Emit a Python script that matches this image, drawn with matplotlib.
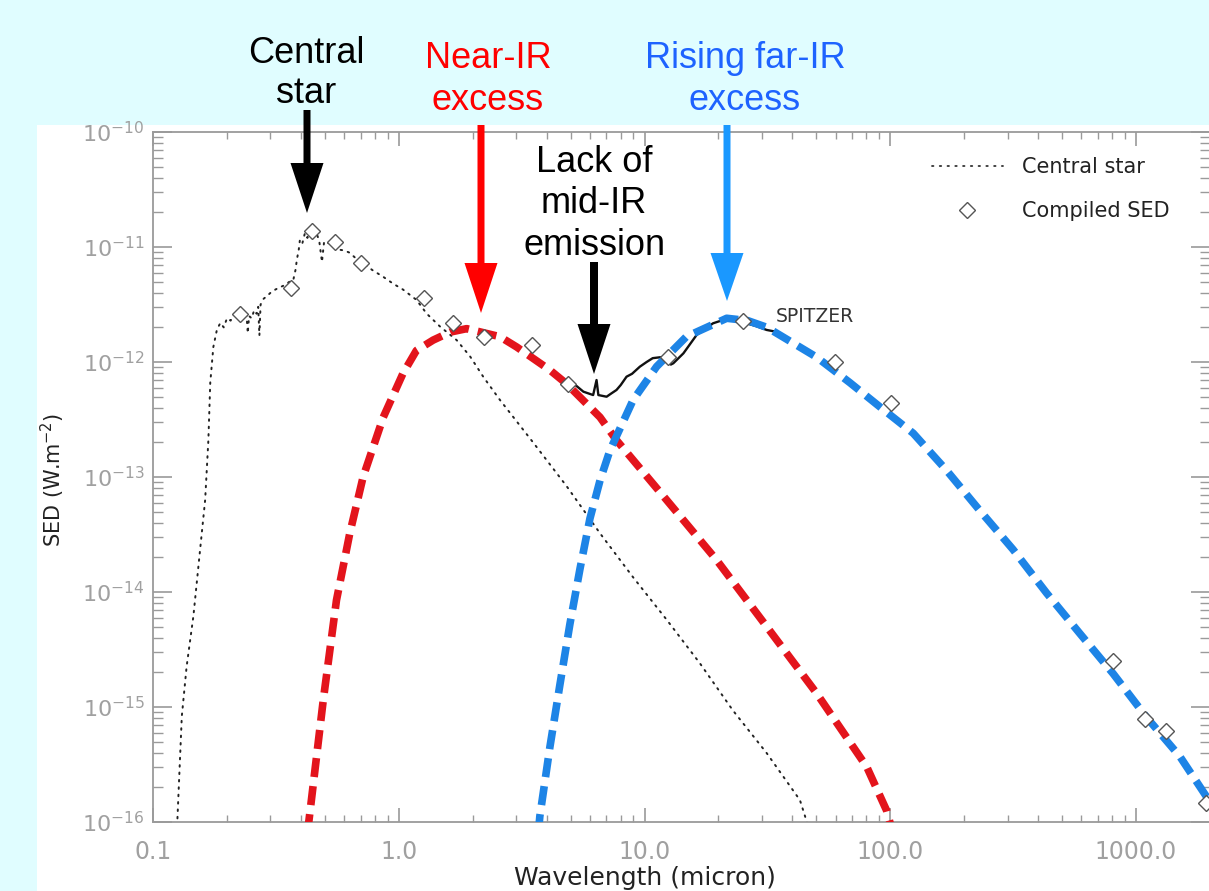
import matplotlib
matplotlib.use("Agg")
import matplotlib.pyplot as plt
import matplotlib.transforms as mtransforms
from matplotlib.lines import Line2D
from matplotlib.patches import Rectangle, FancyArrow
from matplotlib.ticker import FixedLocator, FixedFormatter, LogLocator, NullFormatter

# ---------------- data ----------------
star_wl = [0.125, 0.131, 0.137, 0.146, 0.155, 0.163, 0.168, 0.171, 0.176, 0.182, 0.188,
           0.194, 0.200, 0.207, 0.214, 0.220, 0.226, 0.233, 0.240, 0.243, 0.246, 0.252,
           0.258, 0.264, 0.268, 0.271, 0.274, 0.282, 0.290, 0.300, 0.315, 0.329, 0.345,
           0.360, 0.372, 0.380, 0.385, 0.392, 0.396, 0.405, 0.415, 0.425, 0.436, 0.450,
           0.463, 0.475, 0.487, 0.497, 0.525, 0.56, 0.60, 0.632, 0.67, 0.718, 0.78,
           0.865, 0.95, 1.04, 1.18, 1.30, 1.47, 1.72, 1.95, 2.21, 2.58, 3.52, 4.82,
           6.59, 8.97, 12.3, 16.8, 22.9, 31.4, 42.9, 46.5]
star_sed = [8.0e-17, 8.32e-16, 2.24e-15, 6.17e-15, 2.19e-14, 6.31e-14, 2.09e-13, 6.61e-13,
            1.35e-12, 1.91e-12, 2.19e-12, 2.0e-12, 2.4e-12, 2.29e-12, 2.63e-12, 2.4e-12,
            2.69e-12, 2.51e-12, 2.63e-12, 1.78e-12, 2.51e-12, 2.4e-12, 2.82e-12, 2.63e-12,
            3.02e-12, 1.70e-12, 3.16e-12, 3.55e-12, 3.72e-12, 3.98e-12, 4.27e-12, 4.47e-12,
            4.68e-12, 5.01e-12, 5.13e-12, 6.31e-12, 7.76e-12, 9.55e-12, 1.15e-11, 1.07e-11,
            1.32e-11, 1.20e-11, 1.41e-11, 1.26e-11, 1.32e-11, 1.12e-11, 7.41e-12, 1.12e-11,
            1.07e-11, 9.55e-12, 9.33e-12, 8.91e-12, 7.94e-12, 7.24e-12, 6.31e-12, 5.50e-12,
            4.79e-12, 4.27e-12, 3.47e-12, 2.63e-12, 2.04e-12, 1.55e-12, 1.12e-12, 7.41e-13,
            4.68e-13, 2.0e-13, 8.32e-14, 3.24e-14, 1.35e-14, 5.75e-15, 2.40e-15, 9.33e-16,
            3.98e-16, 1.55e-16, 9.0e-17]

warm_wl = [0.425, 0.436, 0.493, 0.558, 0.632, 0.716, 0.865, 1.04, 1.18, 1.38, 1.62, 1.89,
           2.58, 3.02, 4.12, 4.82, 6.59, 7.69, 12.3, 19.6, 31.4, 50.1, 80.2, 96.6, 101.0]
warm_sed = [8.0e-17, 1.26e-16, 1.15e-15, 8.5e-15, 3.24e-14, 1.0e-13, 3.31e-13, 7.94e-13,
            1.26e-12, 1.55e-12, 1.82e-12, 1.95e-12, 1.66e-12, 1.35e-12, 8.51e-13, 6.46e-13,
            3.31e-13, 2.09e-13, 6.31e-14, 1.91e-14, 5.01e-15, 1.32e-15, 3.02e-16, 1.26e-16,
            9.0e-17]

cold_wl = [3.70, 3.75, 4.12, 4.53, 4.97, 5.46, 6.0, 6.59, 7.23, 8.99, 11.2, 14.8, 21.6,
           26.3, 31.5, 50.2, 68.5, 90.8, 124.0, 169.0, 231.0, 316.0, 433.0, 590.0, 807.0,
           1104.0, 1507.0, 1977.0]
cold_sed = [8.0e-17, 1.12e-16, 4.47e-16, 1.58e-15, 5.25e-15, 1.58e-14, 4.37e-14, 9.33e-14,
            1.70e-13, 4.68e-13, 9.12e-13, 1.66e-12, 2.40e-12, 2.29e-12, 2.0e-12, 1.10e-12,
            6.61e-13, 4.07e-13, 2.40e-13, 1.15e-13, 5.13e-14, 2.34e-14, 9.77e-15, 4.37e-15,
            1.95e-15, 8.13e-16, 3.72e-16, 1.55e-16]

spitzer_wl = [5.13, 5.64, 6.18, 6.38, 6.49, 7.01, 7.3, 7.69, 8.0, 8.45, 8.9, 9.57, 10.2,
              10.8, 11.6, 12.3, 12.8, 13.1, 14.4, 16.3, 19.0, 20.9, 23.0, 26.0, 28.5, 31.4,
              33.5, 35.6]
spitzer_sed = [6.53e-13, 5.52e-13, 5.16e-13, 6.97e-13, 5.16e-13, 4.99e-13, 5.3e-13, 5.71e-13,
               6.3e-13, 7.45e-13, 7.9e-13, 9.10e-13, 1.0e-12, 1.08e-12, 1.1e-12, 1.04e-12,
               9.5e-13, 9.75e-13, 1.19e-12, 1.72e-12, 2.17e-12, 2.32e-12, 2.28e-12, 2.17e-12,
               2.05e-12, 1.90e-12, 1.85e-12, 1.78e-12]

sed_wl = [0.226, 0.366, 0.445, 0.550, 0.700, 1.27, 1.66, 2.23, 3.48, 4.90, 12.5, 25.2,
          59.8, 101.0, 807.0, 1091.0, 1330.0, 1923.0]
sed_val = [2.63e-12, 4.37e-12, 1.38e-11, 1.10e-11, 7.24e-12, 3.63e-12, 2.19e-12, 1.66e-12,
           1.41e-12, 6.46e-13, 1.10e-12, 2.29e-12, 1.0e-12, 4.37e-13, 2.51e-15, 7.94e-16,
           6.17e-16, 1.45e-16]

xtick_vals = [0.1, 1.0, 10.0, 100.0, 1000.0]
xtick_labels = ["0.1", "1.0", "10.0", "100.0", "1000.0"]
ytick_vals = [1e-16, 1e-15, 1e-14, 1e-13, 1e-12, 1e-11, 1e-10]
ytick_labels = [r"$10^{-16}$", r"$10^{-15}$", r"$10^{-14}$", r"$10^{-13}$",
                r"$10^{-12}$", r"$10^{-11}$", r"$10^{-10}$"]

legend_labels = ["Central star", "Compiled SED"]

# ---------------- figure ----------------
W, H = 1209, 891
fig = plt.figure(figsize=(W / 100, H / 100), dpi=100)
fig.patch.set_facecolor('#e0fdff')
# pixel transform (image coordinates, y downward)
px = mtransforms.Affine2D().scale(1.0 / W, -1.0 / H).translate(0, 1) + fig.transFigure

fig.add_artist(Rectangle((37, 125), W, H, transform=px, facecolor='white',
                         edgecolor='none', zorder=-5))

ax = fig.add_axes([153 / W, 1 - 822 / H, (1210 - 153) / W, (822 - 132) / H])
ax.set_facecolor('white')
ax.set_xscale('log')
ax.set_yscale('log')
ax.set_xlim(0.1, 2000)
ax.set_ylim(1e-16, 1e-10)

gray = '#9a9a9a'
for s in ax.spines.values():
    s.set_color(gray)
    s.set_linewidth(1.3)
ax.xaxis.set_major_locator(FixedLocator(xtick_vals))
ax.xaxis.set_major_formatter(FixedFormatter(xtick_labels))
ax.xaxis.set_minor_locator(LogLocator(base=10, subs=range(2, 10), numticks=30))
ax.xaxis.set_minor_formatter(NullFormatter())
ax.yaxis.set_major_locator(FixedLocator(ytick_vals))
ax.yaxis.set_major_formatter(FixedFormatter(ytick_labels))
ax.yaxis.set_minor_locator(LogLocator(base=10, subs=range(2, 10), numticks=30))
ax.yaxis.set_minor_formatter(NullFormatter())
ax.tick_params(which='both', direction='in', top=True, right=True, color=gray,
               labelcolor='#a0a0a0')
ax.tick_params(axis='y', which='major', length=14, width=1.2, labelsize=16, pad=6)
ax.tick_params(axis='y', which='minor', length=7, width=1.0)
ax.tick_params(axis='x', which='major', length=10, width=1.2, labelsize=17, pad=13)
ax.tick_params(axis='x', which='minor', length=5, width=1.0)

# curves
ax.plot(star_wl, star_sed, color='#222222', lw=1.4, ls=(0, (0.8, 3.0)),
        dash_capstyle='round', zorder=2)
ax.plot(spitzer_wl, spitzer_sed, color='#111111', lw=1.7, zorder=3)
ax.plot(warm_wl, warm_sed, color='#e3141c', lw=5.5, dashes=(2.5, 1.2), zorder=4)
ax.plot(cold_wl, cold_sed, color='#1d84e6', lw=5.5, dashes=(2.5, 1.2), zorder=4)
ax.plot(sed_wl, sed_val, ls='none', marker='D', ms=8.5, mfc='white', mec='#555555',
        mew=1.0, zorder=5, clip_on=True)

ax.text(34.3, 2.5e-12, "SPITZER", fontsize=13.5, color='#333333', ha='left', va='center')

# legend
h1 = Line2D([], [], color='#333333', lw=1.3, ls=(0, (0.8, 3.5)), dash_capstyle='round')
h2 = Line2D([], [], ls='none', marker='D', ms=8.5, mfc='white', mec='#555555', mew=1.0)
ax.legend([h1, h2], legend_labels, loc='upper left', bbox_to_anchor=(932, 157),
          bbox_transform=px, frameon=False, fontsize=15, handlelength=3.4,
          handletextpad=0.9, labelspacing=1.15, borderpad=0, borderaxespad=0,
          labelcolor='#222222')

# axis labels
fig.text(645, 878, "Wavelength (micron)", transform=px, fontsize=18, color='#222222',
         ha='center', va='center')
fig.text(53, 480, r"SED (W.m$^{-2}$)", transform=px, fontsize=15, color='#222222',
         ha='center', va='center', rotation=90)

# annotations
afont = dict(family=['Liberation Sans', 'DejaVu Sans'], fontsize=26, ha='center',
             va='baseline', transform=px)
fig.text(306, 63, "Central", color='black', **afont)
fig.text(306, 103, "star", color='black', **afont)
fig.text(488, 68, "Near-IR", color='#ff0000', **afont)
fig.text(488, 110, "excess", color='#ff0000', **afont)
fig.text(745, 68, "Rising far-IR", color='#1e63ff', **afont)
fig.text(745, 110, "excess", color='#1e63ff', **afont)
fig.text(594, 172, "Lack of", color='black', **afont)
fig.text(594, 213, "mid-IR", color='black', **afont)
fig.text(595, 255, "emission", color='black', **afont)

# arrows (pixel coordinates)
def arrow(x, y0, y1, color, hw=33, hl=50, w=7):
    fig.add_artist(FancyArrow(x, y0, 0, y1 - y0, width=w, head_width=hw, head_length=hl,
                              length_includes_head=True, transform=px, color=color,
                              lw=0, zorder=10))

arrow(307, 110, 213, 'black')
arrow(481, 125, 313, '#ff0000')
arrow(594, 262, 374, 'black', w=8)
arrow(727, 125, 301, '#1a98ff', hl=48)

fig.savefig("out.png", dpi=100, facecolor=fig.get_facecolor())
